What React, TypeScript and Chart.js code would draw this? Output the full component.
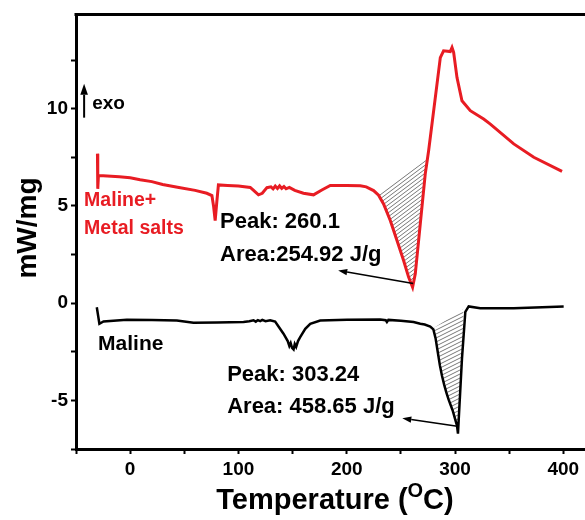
import React, { useEffect, useRef } from 'react';
import { Chart, registerables } from 'chart.js';

Chart.register(...registerables);

// ---- data (temperature in °C, heat flow in mW/mg) ----
const redTemp = [
  -30.2, -29.9, -29.3, -25, -10, 0, 9.2, 20, 30, 45, 60, 70.8, 75.5, 77, 78.5, 80, 81.5, 90, 100,
  110.9, 114, 118.5, 122, 126.3, 130, 132, 134, 136, 138, 140, 142, 144, 147, 152, 160, 169.3, 177,
  184.8, 200, 212.5, 218, 224.8, 229.4, 234, 240.2, 246.4, 252.5, 257.1, 260.8, 263.3, 267.9, 272.5,
  275.6, 281.8, 286.4, 289.4, 295.6, 297.2, 298.7, 301.8, 306.4, 314.1, 326.4, 332.6, 354.2, 372.7, 398.8,
];
const redSignal = [
  7.69, 5.88, 6.56, 6.55, 6.5, 6.45, 6.35, 6.25, 6.1, 5.95, 5.8, 5.65, 5.53, 5.0, 4.25, 5.2, 6.08, 6.05, 6.02,
  5.95, 5.8, 5.57, 5.65, 5.94, 5.98, 5.88, 6.02, 5.9, 6.03, 5.9, 6.0, 5.88, 5.95, 5.8, 5.65, 5.57, 5.82,
  6.05, 6.05, 6.04, 5.98, 5.79, 5.55, 5.1, 4.25, 3.22, 2.19, 1.34, 0.82, 1.51, 4.08, 6.65,
  7.84, 10.58, 12.63, 12.98, 12.94, 13.15, 12.9, 11.6, 10.41, 9.9, 9.47, 9.21, 8.19, 7.5, 6.78,
];
const blackTemp = [
  -30.8, -28.4, -24.6, -3.1, 20, 43.1, 58.5, 80, 104.7, 110, 113.9, 116, 118, 120.1, 122, 125, 129.3,
  133.9, 137, 141.6, 145.5, 147, 148.2, 149.5, 150.9, 152, 153.3, 155, 157, 161.7, 166.3, 175.5, 200.2,
  230.9, 236, 237.1, 238.5, 250, 261.7, 267.9, 272, 277.1, 280, 282, 284, 286, 288, 290, 292,
  294, 296, 298, 300, 301.8, 302.7, 306.4, 309.5, 312.6, 323.3, 354.2, 400.3,
];
const blackSignal = [
  -0.21, -1.06, -0.94, -0.85, -0.86, -0.89, -1.01, -0.99, -0.97, -0.93, -0.88, -0.95, -0.87, -0.92, -0.86, -0.93, -0.88,
  -0.95, -1.2, -1.57, -1.95, -2.2, -2.05, -2.3, -2.38, -2.1, -2.25, -1.95, -1.75, -1.32, -1.06, -0.89, -0.85,
  -0.84, -0.88, -0.97, -0.86, -0.9, -0.97, -1.06, -1.1, -1.2, -1.35, -1.8, -2.5, -3.2, -3.75, -4.2, -4.6,
  -4.95, -5.25, -5.55, -5.95, -6.3, -6.71, -2.85, -0.45, -0.17, -0.26, -0.26, -0.17,
];
// integration baselines (start / end points)
const redBaseTemp = [229.4, 274.1];
const redBaseSignal = [5.6, 7.42];
const blackBaseTemp = [279.6, 307.9];
const blackBaseSignal = [-1.3, -0.29];

// ---- ticks ----
const xMajorTicks = [0, 100, 200, 300, 400];
const xMinorTicks = [-50, 50, 150, 250, 350];
const yMajorTicks = [-5, 0, 5, 10];
const yMinorTicks = [-7.5, -2.5, 2.5, 7.5, 12.5];

const RED = '#e81c23';
const FONT = '"Liberation Sans", Arial, Helvetica, sans-serif';

// text notes in data coordinates
const notes = [
  { text: 'Peak: 260.1', x: 83, y: 3.89, color: '#000', size: 22 },
  { text: 'Area:254.92 J/g', x: 83, y: 2.19, color: '#000', size: 22 },
  { text: 'Peak: 303.24', x: 89.6, y: -4.02, color: '#000', size: 22 },
  { text: 'Area: 458.65 J/g', x: 89.6, y: -5.67, color: '#000', size: 22 },
  { text: 'Maline+', x: -42.5, y: 5.02, color: RED, size: 19.5 },
  { text: 'Metal salts', x: -42.5, y: 3.58, color: RED, size: 19.5 },
  { text: 'Maline', x: -29.6, y: -2.43, color: '#000', size: 21 },
  { text: 'exo', x: -35.1, y: 10.0, color: '#000', size: 19 },
];
// arrows: tail -> tip, in data coordinates
const arrows = [
  { x1: 261.4, y1: 1.01, x2: 192.1, y2: 1.68, lw: 1.6, head: 9, hw: 3.2 },
  { x1: 302.1, y1: -6.33, x2: 251.3, y2: -5.92, lw: 1.6, head: 9, hw: 3.2 },
  { x1: -42.5, y1: 9.54, x2: -42.5, y2: 11.28, lw: 2, head: 11, hw: 3.8 },
];

const zip = (xs: number[], ys: number[]) => xs.map((x, i) => ({ x, y: ys[i] }));

function makeHatch(w: number, h: number, n: number, color: string, lw: number) {
  const c = document.createElement('canvas');
  c.width = w;
  c.height = h;
  const g = c.getContext('2d')!;
  g.strokeStyle = color;
  g.lineWidth = lw;
  const step = h / n;
  for (let cc = -h; cc <= 2 * h + 0.01; cc += step) {
    g.beginPath();
    g.moveTo(-1, cc + h / w);
    g.lineTo(w + 1, cc - (h / w) * (w + 1));
    g.stroke();
  }
  return g.createPattern(c, 'repeat')!;
}

function drawArrow(ctx: CanvasRenderingContext2D, x1: number, y1: number, x2: number, y2: number, lw: number, head: number, hw: number) {
  const ang = Math.atan2(y2 - y1, x2 - x1);
  const bx = x2 - head * Math.cos(ang);
  const by = y2 - head * Math.sin(ang);
  ctx.strokeStyle = '#000';
  ctx.fillStyle = '#000';
  ctx.lineWidth = lw;
  ctx.beginPath();
  ctx.moveTo(x1, y1);
  ctx.lineTo(bx, by);
  ctx.stroke();
  ctx.beginPath();
  ctx.moveTo(x2, y2);
  ctx.lineTo(bx + hw * Math.sin(ang), by - hw * Math.cos(ang));
  ctx.lineTo(bx - hw * Math.sin(ang), by + hw * Math.cos(ang));
  ctx.closePath();
  ctx.fill();
}

const overlayPlugin = {
  id: 'overlay',
  afterDraw(chart: any) {
    const { ctx, chartArea } = chart;
    const xs = chart.scales.x;
    const ys = chart.scales.y;
    ctx.save();
    // top frame line
    ctx.strokeStyle = '#000';
    ctx.lineWidth = 3;
    ctx.beginPath();
    ctx.moveTo(chartArea.left - 1.5, chartArea.top);
    ctx.lineTo(chartArea.right, chartArea.top);
    ctx.stroke();

    // notes
    ctx.textBaseline = 'alphabetic';
    ctx.textAlign = 'left';
    for (const n of notes) {
      ctx.fillStyle = n.color;
      ctx.font = `bold ${n.size}px ${FONT}`;
      ctx.fillText(n.text, xs.getPixelForValue(n.x), ys.getPixelForValue(n.y));
    }
    for (const a of arrows) {
      drawArrow(
        ctx,
        xs.getPixelForValue(a.x1), ys.getPixelForValue(a.y1),
        xs.getPixelForValue(a.x2), ys.getPixelForValue(a.y2),
        a.lw, a.head, a.hw,
      );
    }

    // y axis title
    ctx.fillStyle = '#000';
    ctx.save();
    ctx.translate(36, 228);
    ctx.rotate(-Math.PI / 2);
    ctx.font = `bold 28px ${FONT}`;
    ctx.textAlign = 'center';
    ctx.fillText('mW/mg', 0, 0);
    ctx.restore();

    // x axis title with superscript
    const big = `bold 29px ${FONT}`;
    const small = `bold 20px ${FONT}`;
    ctx.font = big;
    const p1 = 'Temperature (';
    const p3 = 'C)';
    const w1 = ctx.measureText(p1).width;
    const w3 = ctx.measureText(p3).width;
    ctx.font = small;
    const w2 = ctx.measureText('O').width;
    const total = w1 + w2 + w3;
    let cx = 335 - total / 2;
    const base = 509;
    ctx.textAlign = 'left';
    ctx.font = big;
    ctx.fillText(p1, cx, base);
    cx += w1;
    ctx.font = small;
    ctx.fillText('O', cx, base - 12);
    cx += w2;
    ctx.font = big;
    ctx.fillText(p3, cx, base);
    ctx.restore();
  },
};

export default function App() {
  const ref = useRef<HTMLCanvasElement | null>(null);

  useEffect(() => {
    document.body.style.margin = '0';
    const canvas = ref.current!;
    const redHatch = makeHatch(16, 12, 3, '#555', 0.8);
    const blackHatch = makeHatch(16, 8, 2, '#555', 0.8);

    const chart = new Chart(canvas, {
      type: 'line',
      data: {
        datasets: [
          {
            label: 'Maline+Metal salts',
            data: zip(redTemp, redSignal),
            borderColor: RED,
            borderWidth: 3,
            pointRadius: 0,
            tension: 0,
            fill: false,
          },
          {
            label: 'Maline',
            data: zip(blackTemp, blackSignal),
            borderColor: '#000',
            borderWidth: 2.5,
            pointRadius: 0,
            tension: 0,
            fill: false,
          },
          {
            label: 'red baseline',
            data: zip(redBaseTemp, redBaseSignal),
            borderColor: 'rgba(0,0,0,0)',
            borderWidth: 0.5,
            pointRadius: 0,
            backgroundColor: redHatch as any,
            fill: { target: 0 },
          },
          {
            label: 'black baseline',
            data: zip(blackBaseTemp, blackBaseSignal),
            borderColor: 'rgba(0,0,0,0)',
            borderWidth: 0.5,
            pointRadius: 0,
            backgroundColor: blackHatch as any,
            fill: { target: 1 },
          },
        ],
      },
      options: {
        animation: false,
        responsive: false,
        devicePixelRatio: 1,
        layout: { padding: { top: 13, left: 0, right: 0, bottom: 0 } },
        plugins: {
          legend: { display: false },
          tooltip: { enabled: false },
          filler: { propagate: false, drawTime: 'beforeDatasetsDraw' } as any,
        },
        scales: {
          x: {
            type: 'linear',
            min: -50,
            max: 420,
            afterBuildTicks: (s: any) => {
              s.ticks = [...xMinorTicks, ...xMajorTicks].sort((a, b) => a - b).map((v) => ({ value: v }));
            },
            afterFit: (s: any) => {
              s.height = 71;
            },
            ticks: {
              autoSkip: false,
              maxRotation: 0,
              padding: 4,
              color: '#000',
              font: { family: FONT, size: 19, weight: 'bold' },
              callback: (v: any) => (xMajorTicks.includes(Number(v)) ? String(v) : ''),
            },
            grid: { drawOnChartArea: false, drawTicks: true, tickLength: 5, tickWidth: 2, color: '#000' },
            border: { display: true, width: 3, color: '#000' },
          },
          y: {
            type: 'linear',
            min: -7.5,
            max: 14.85,
            afterBuildTicks: (s: any) => {
              s.ticks = [...yMinorTicks, ...yMajorTicks].sort((a, b) => a - b).map((v) => ({ value: v }));
            },
            afterFit: (s: any) => {
              s.width = 76;
            },
            ticks: {
              autoSkip: false,
              padding: 3,
              color: '#000',
              font: { family: FONT, size: 19, weight: 'bold' },
              callback: (v: any) => (yMajorTicks.includes(Number(v)) ? String(v) : ''),
            },
            grid: { drawOnChartArea: false, drawTicks: true, tickLength: 5, tickWidth: 2, color: '#000' },
            border: { display: true, width: 3, color: '#000' },
          },
        },
      },
      plugins: [overlayPlugin],
    });
    return () => chart.destroy();
  }, []);

  return <canvas ref={ref} width={585} height={520} style={{ display: 'block' }} />;
}
